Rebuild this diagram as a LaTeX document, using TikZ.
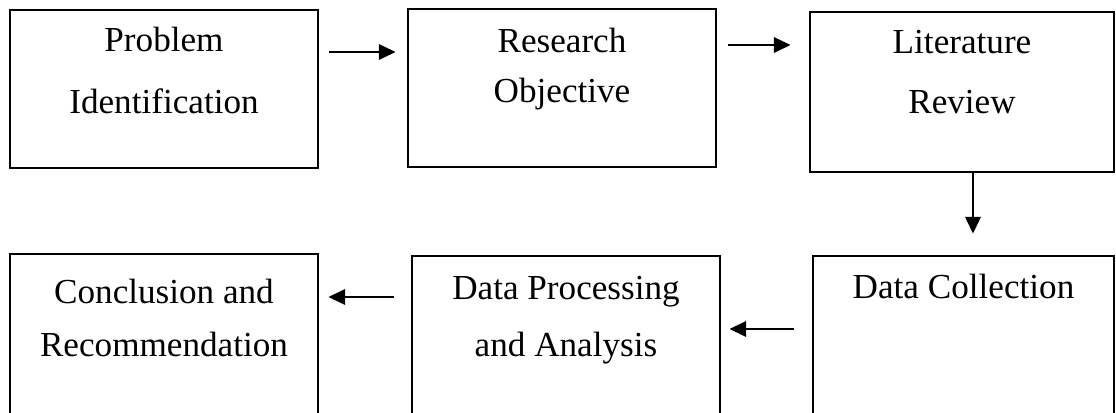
\documentclass[tikz,border=0pt]{standalone}
\usepackage{fontspec}
\setmainfont{Liberation Serif}
\usetikzlibrary{positioning,arrows.meta}

\begin{document}
\begin{tikzpicture}[
    >={Triangle[length=0.42cm,width=0.38cm]},
    stage/.style={draw, line width=1.9pt, inner sep=0pt},
    stagetext/.style={
        font=\fontsize{25}{38}\selectfont,
        align=center,
        inner sep=0pt,
        anchor=base
    },
    flow/.style={->, line width=2pt}
]

% Page
\clip (0,0) rectangle (27.9,-10.3);

% ---- Top row ----

% Problem Identification
\node[stage, minimum width=7.7cm, minimum height=3.95cm] (prob) at (4.1,-2.225) {};
\node[stagetext] (prob-txt) at ([yshift=-2.625cm]prob.north)
{Problem\\[6pt]Identification};

% Research Objective
\node[stage, minimum width=7.7cm, minimum height=3.95cm] (obj) at (14.05,-2.2) {};
\node[stagetext] (obj-txt) at ([yshift=-2.375cm]obj.north)
{Research\\[-2pt]Objective};

% Literature Review
\node[stage, minimum width=7.6cm, minimum height=4cm] (lit) at (24.05,-2.3) {};
\node[stagetext] (lit-txt) at ([yshift=-2.575cm]lit.north)
{Literature\\[5pt]Review};

% ---- Bottom row ----

% Conclusion and Recommendation
\node[stage, minimum width=7.7cm, minimum height=4.25cm] (concl) at (4.1,-8.475) {};
\node[stagetext] (concl-txt) at ([yshift=-2.6cm]concl.north)
{Conclusion and\\Recommendation};

% Data Processing and Analysis
\node[stage, minimum width=7.7cm, minimum height=4.25cm] (proc) at (14.15,-8.525) {};
\node[stagetext] (proc-txt) at ([yshift=-2.55cm]proc.north)
{Data Processing\\[3pt]and Analysis};

% Data Collection
\node[stage, minimum width=7.525cm, minimum height=4.25cm] (coll) at (24.0875,-8.525) {};
\node[stagetext] (coll-txt) at ([yshift=-1.1cm]coll.north)
{Data Collection};

% ---- Arrows ----
\draw[flow, shorten <=0.25cm, shorten >=0.275cm]
    ([yshift=0.925cm]prob.east) -- ([yshift=0.925cm]prob.east -| obj.west);
\draw[flow, shorten <=0.275cm, shorten >=0.45cm]
    ([yshift=1.075cm]obj.east) -- ([yshift=1.075cm]obj.east -| lit.west);
\draw[flow, shorten >=0.525cm]
    ([xshift=0.275cm]lit.south) -- ([xshift=0.275cm]lit.south |- coll.north);
\draw[flow, shorten <=0.45cm, shorten >=0.2cm]
    ([yshift=0.3cm]coll.west) -- ([yshift=0.3cm]coll.west -| proc.east);
\draw[flow, shorten <=0.425cm, shorten >=0.225cm]
    ([yshift=1.1cm]proc.west) -- ([yshift=1.1cm]proc.west -| concl.east);

\end{tikzpicture}
\end{document}
